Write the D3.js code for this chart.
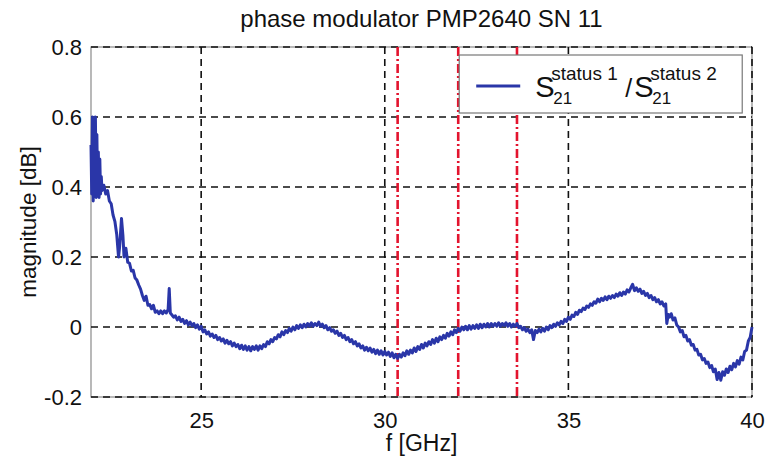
<!DOCTYPE html>
<html>
  <head>
    <meta charset="utf-8">
    <style>
      body {
        margin: 0;
        background: white;
        font-family: "Arial", "Liberation Sans", sans-serif;
      }
    </style>
  </head>
<body>
  <div id="chart"></div>

  <script src="https://d3js.org/d3.v7.min.js"></script>
  <script>

    // measured trace: [frequency GHz, magnitude dB]
    var trace = [
      [22.00, 0.52], [22.02, 0.38], [22.04, 0.60], [22.06, 0.36], [22.08, 0.59],
      [22.10, 0.40], [22.12, 0.60], [22.14, 0.37], [22.16, 0.55], [22.18, 0.38],
      [22.20, 0.50], [22.22, 0.37], [22.24, 0.48], [22.26, 0.38], [22.28, 0.43],
      [22.30, 0.39], [22.35, 0.405], [22.40, 0.38], [22.45, 0.39], [22.50, 0.36],
      [22.55, 0.352], [22.60, 0.32], [22.65, 0.302], [22.70, 0.265], [22.75, 0.20],
      [22.78, 0.23], [22.83, 0.31], [22.87, 0.26], [22.90, 0.20], [22.95, 0.225],
      [23.00, 0.185], [23.05, 0.182], [23.10, 0.16], [23.15, 0.162], [23.20, 0.14],
      [23.25, 0.134], [23.30, 0.12], [23.35, 0.108], [23.40, 0.09], [23.45, 0.076],
      [23.50, 0.088], [23.55, 0.062], [23.60, 0.064], [23.65, 0.052], [23.70, 0.062],
      [23.75, 0.042], [23.80, 0.046], [23.85, 0.038], [23.90, 0.046], [23.95, 0.038],
      [24.00, 0.046], [24.05, 0.04], [24.10, 0.05], [24.13, 0.11], [24.16, 0.04],
      [24.20, 0.035], [24.25, 0.028], [24.30, 0.032], [24.35, 0.02], [24.40, 0.028],
      [24.45, 0.016], [24.50, 0.022], [24.55, 0.01], [24.60, 0.018], [24.65, 0.006],
      [24.70, 0.014], [24.75, 0.004], [24.80, 0.01], [24.85, -0.002], [24.90, 0.006],
      [24.95, -0.006], [25.00, 0.002], [25.05, -0.014], [25.10, -0.008], [25.15, -0.02],
      [25.20, -0.014], [25.25, -0.026], [25.30, -0.02], [25.35, -0.03], [25.40, -0.024],
      [25.45, -0.036], [25.50, -0.03], [25.55, -0.04], [25.60, -0.034], [25.65, -0.046],
      [25.70, -0.038], [25.75, -0.048], [25.80, -0.042], [25.85, -0.054], [25.90, -0.046],
      [25.95, -0.056], [26.00, -0.05], [26.05, -0.062], [26.10, -0.052], [26.15, -0.064],
      [26.20, -0.054], [26.25, -0.066], [26.30, -0.056], [26.35, -0.068], [26.40, -0.056],
      [26.45, -0.064], [26.50, -0.054], [26.55, -0.066], [26.60, -0.054], [26.65, -0.062],
      [26.70, -0.05], [26.75, -0.056], [26.80, -0.042], [26.85, -0.048], [26.90, -0.036],
      [26.95, -0.042], [27.00, -0.03], [27.05, -0.034], [27.10, -0.022], [27.15, -0.028],
      [27.20, -0.014], [27.25, -0.022], [27.30, -0.01], [27.35, -0.016], [27.40, -0.004],
      [27.45, -0.012], [27.50, 0.0], [27.55, -0.008], [27.60, 0.004], [27.65, -0.004],
      [27.70, 0.006], [27.75, -0.002], [27.80, 0.008], [27.85, 0.0], [27.90, 0.01],
      [27.95, 0.002], [28.00, 0.012], [28.05, 0.002], [28.10, 0.01], [28.15, 0.004],
      [28.20, 0.014], [28.25, 0.002], [28.30, 0.008], [28.35, -0.002], [28.40, 0.004],
      [28.45, -0.008], [28.50, -0.002], [28.55, -0.012], [28.60, -0.008], [28.65, -0.018],
      [28.70, -0.012], [28.75, -0.024], [28.80, -0.018], [28.85, -0.03], [28.90, -0.024],
      [28.95, -0.036], [29.00, -0.03], [29.05, -0.042], [29.10, -0.036], [29.15, -0.048],
      [29.20, -0.042], [29.25, -0.054], [29.30, -0.048], [29.35, -0.06], [29.40, -0.054],
      [29.45, -0.066], [29.50, -0.058], [29.55, -0.068], [29.60, -0.06], [29.65, -0.072],
      [29.70, -0.064], [29.75, -0.076], [29.80, -0.066], [29.85, -0.078], [29.90, -0.068],
      [29.95, -0.08], [30.00, -0.07], [30.05, -0.08], [30.10, -0.072], [30.15, -0.084],
      [30.20, -0.074], [30.25, -0.088], [30.30, -0.078], [30.35, -0.09], [30.40, -0.078],
      [30.45, -0.086], [30.50, -0.074], [30.55, -0.082], [30.60, -0.068], [30.65, -0.078],
      [30.70, -0.066], [30.75, -0.074], [30.80, -0.06], [30.85, -0.07], [30.90, -0.056],
      [30.95, -0.064], [31.00, -0.05], [31.05, -0.06], [31.10, -0.046], [31.15, -0.054],
      [31.20, -0.042], [31.25, -0.05], [31.30, -0.036], [31.35, -0.046], [31.40, -0.032],
      [31.45, -0.042], [31.50, -0.028], [31.55, -0.036], [31.60, -0.024], [31.65, -0.032],
      [31.70, -0.018], [31.75, -0.026], [31.80, -0.014], [31.85, -0.022], [31.90, -0.008],
      [31.95, -0.016], [32.00, -0.004], [32.05, -0.012], [32.10, 0.0], [32.15, -0.008],
      [32.20, 0.002], [32.25, -0.008], [32.30, 0.004], [32.35, -0.006], [32.40, 0.004],
      [32.45, -0.004], [32.50, 0.006], [32.55, -0.004], [32.60, 0.008], [32.65, -0.002],
      [32.70, 0.008], [32.75, 0.0], [32.80, 0.01], [32.85, 0.0], [32.90, 0.01],
      [32.95, 0.002], [33.00, 0.01], [33.05, 0.002], [33.10, 0.012], [33.15, 0.002],
      [33.20, 0.01], [33.25, 0.004], [33.30, 0.012], [33.35, 0.002], [33.40, 0.01],
      [33.45, 0.0], [33.50, 0.008], [33.55, 0.002], [33.60, 0.01], [33.65, -0.002],
      [33.70, 0.002], [33.75, -0.008], [33.80, -0.002], [33.85, -0.012], [33.90, -0.006],
      [33.95, -0.016], [34.00, -0.008], [34.05, -0.036], [34.10, -0.01], [34.15, -0.016],
      [34.20, -0.006], [34.25, -0.014], [34.30, -0.004], [34.35, -0.012], [34.40, 0.0],
      [34.45, -0.008], [34.50, 0.004], [34.55, -0.002], [34.60, 0.008], [34.65, 0.002],
      [34.70, 0.012], [34.75, 0.006], [34.80, 0.016], [34.85, 0.01], [34.90, 0.022],
      [34.95, 0.016], [35.00, 0.028], [35.05, 0.022], [35.10, 0.034], [35.15, 0.03],
      [35.20, 0.042], [35.25, 0.036], [35.30, 0.048], [35.35, 0.044], [35.40, 0.054],
      [35.45, 0.05], [35.50, 0.06], [35.55, 0.056], [35.60, 0.066], [35.65, 0.062],
      [35.70, 0.072], [35.75, 0.068], [35.80, 0.08], [35.85, 0.072], [35.90, 0.082],
      [35.95, 0.076], [36.00, 0.086], [36.05, 0.078], [36.10, 0.088], [36.15, 0.082],
      [36.20, 0.09], [36.25, 0.084], [36.30, 0.094], [36.35, 0.088], [36.40, 0.098],
      [36.45, 0.09], [36.50, 0.1], [36.55, 0.094], [36.60, 0.106], [36.65, 0.1],
      [36.70, 0.112], [36.75, 0.122], [36.80, 0.104], [36.85, 0.112], [36.90, 0.102],
      [36.95, 0.108], [37.00, 0.096], [37.05, 0.102], [37.10, 0.09], [37.15, 0.096],
      [37.20, 0.084], [37.25, 0.09], [37.30, 0.078], [37.35, 0.084], [37.40, 0.072],
      [37.45, 0.078], [37.50, 0.066], [37.55, 0.072], [37.60, 0.06], [37.65, 0.066],
      [37.68, 0.01], [37.72, 0.036], [37.75, 0.028], [37.80, 0.038], [37.85, 0.02],
      [37.90, 0.026], [37.95, 0.006], [38.00, 0.0], [38.05, -0.014], [38.10, -0.01],
      [38.15, -0.028], [38.20, -0.024], [38.25, -0.04], [38.30, -0.036], [38.35, -0.052],
      [38.40, -0.05], [38.45, -0.066], [38.50, -0.064], [38.55, -0.08], [38.60, -0.078],
      [38.65, -0.094], [38.70, -0.09], [38.75, -0.104], [38.80, -0.1], [38.85, -0.116],
      [38.90, -0.11], [38.95, -0.128], [39.00, -0.12], [39.05, -0.15], [39.10, -0.13],
      [39.15, -0.152], [39.20, -0.128], [39.25, -0.138], [39.30, -0.12], [39.35, -0.13],
      [39.40, -0.112], [39.45, -0.122], [39.50, -0.104], [39.55, -0.114], [39.60, -0.096],
      [39.65, -0.106], [39.70, -0.086], [39.75, -0.094], [39.80, -0.07], [39.85, -0.066],
      [39.90, -0.04], [39.95, -0.03], [40.00, 0.0]
    ];

    var xTicks = [25, 30, 35, 40];
    var yTicks = [-0.2, 0, 0.2, 0.4, 0.6, 0.8];
    var yTickLabels = ["-0.2", "0", "0.2", "0.4", "0.6", "0.8"];
    var markers = [30.35, 32.0, 33.6];   // red dash-dot frequencies

    var margin = {top: 47, right: 16, bottom: 71, left: 91},
      width = 768 - margin.left - margin.right,
      height = 468 - margin.top - margin.bottom;

    var svg = d3.select("#chart")
      .append("svg")
      .attr("width", 768)
      .attr("height", 468)
      .append("g")
      .attr("transform", "translate(" + margin.left + "," + margin.top + ")");

    var x = d3.scaleLinear()
      .domain([22, 40])
      .range([0, width]);

    var y = d3.scaleLinear()
      .domain([-0.2, 0.8])
      .range([height, 0]);

    // axes box
    svg.append("rect")
      .attr("width", width)
      .attr("height", height)
      .style("fill", "none")
      .style("stroke", "#8a8a8a")
      .style("stroke-width", 1.2);

    // dashed grid
    svg.append("g")
      .selectAll("line")
      .data(yTicks)
      .enter()
      .append("line")
        .attr("x1", 0)
        .attr("x2", width)
        .attr("y1", function(d) { return y(d); })
        .attr("y2", function(d) { return y(d); })
        .style("stroke", "#111")
        .style("stroke-width", 1.6)
        .style("stroke-dasharray", "7,5");

    svg.append("g")
      .selectAll("line")
      .data(xTicks)
      .enter()
      .append("line")
        .attr("x1", function(d) { return x(d); })
        .attr("x2", function(d) { return x(d); })
        .attr("y1", 0)
        .attr("y2", height)
        .style("stroke", "#111")
        .style("stroke-width", 1.6)
        .style("stroke-dasharray", "7,5");

    // tick labels
    svg.append("g")
      .attr("transform", "translate(0," + height + ")")
      .call(d3.axisBottom(x).tickValues(xTicks).tickSize(0).tickPadding(15))
      .call(function(g) { g.select(".domain").remove(); })
      .selectAll("text")
        .style("font-family", "Arial")
        .style("font-size", "22px")
        .style("fill", "#111");

    svg.append("g")
      .call(d3.axisLeft(y).tickValues(yTicks).tickSize(0).tickPadding(9)
        .tickFormat(function(d, i) { return yTickLabels[i]; }))
      .call(function(g) { g.select(".domain").remove(); })
      .selectAll("text")
        .style("font-family", "Arial")
        .style("font-size", "22px")
        .style("fill", "#111");

    // red markers
    svg.append("g")
      .selectAll("line")
      .data(markers)
      .enter()
      .append("line")
        .attr("x1", function(d) { return x(d); })
        .attr("x2", function(d) { return x(d); })
        .attr("y1", 0)
        .attr("y2", height)
        .style("stroke", "#e3142e")
        .style("stroke-width", 2.6)
        .style("stroke-dasharray", "9,3,2,3");

    // measured curve
    var line = d3.line()
      .x(function(d) { return x(d[0]); })
      .y(function(d) { return y(d[1]); });

    svg.append("path")
      .datum(trace)
      .attr("d", line)
      .style("fill", "none")
      .style("stroke", "#2a36a8")
      .style("stroke-width", 3)
      .style("stroke-linejoin", "round");

    // title and axis labels
    svg.append("text")
      .attr("x", width / 2)
      .attr("y", -20)
      .style("text-anchor", "middle")
      .style("font-family", "Arial")
      .style("font-size", "24px")
      .style("fill", "#111")
      .text("phase modulator PMP2640 SN 11");

    svg.append("text")
      .attr("x", width / 2)
      .attr("y", height + 54)
      .style("text-anchor", "middle")
      .style("font-family", "Arial")
      .style("font-size", "23px")
      .style("fill", "#111")
      .text("f [GHz]");

    svg.append("text")
      .attr("transform", "rotate(-90)")
      .attr("x", -height / 2)
      .attr("y", -55)
      .style("text-anchor", "middle")
      .style("font-family", "Arial")
      .style("font-size", "22.5px")
      .style("fill", "#111")
      .text("magnitude [dB]");

    // legend
    var lg = svg.append("g")
      .attr("transform", "translate(" + (x(32.0) + 1) + ",8)");

    lg.append("rect")
      .attr("width", 283)
      .attr("height", 58)
      .style("fill", "white")
      .style("stroke", "#777")
      .style("stroke-width", 1.2);

    lg.append("line")
      .attr("x1", 17).attr("x2", 61)
      .attr("y1", 31).attr("y2", 31)
      .style("stroke", "#2a36a8")
      .style("stroke-width", 3);

    function sym(px, sup) {
      lg.append("text")
        .attr("x", px).attr("y", 42)
        .style("font-family", "Arial").style("font-size", "29px").style("fill", "#111")
        .text("S");
      lg.append("text")
        .attr("x", px + 16).attr("y", 25)
        .style("font-family", "Arial").style("font-size", "19px").style("fill", "#111")
        .text(sup);
      lg.append("text")
        .attr("x", px + 18).attr("y", 49)
        .style("font-family", "Arial").style("font-size", "17px").style("fill", "#111")
        .text("21");
    }
    sym(76, "status 1");
    lg.append("text")
      .attr("x", 166).attr("y", 42)
      .style("font-family", "Arial").style("font-size", "25px").style("fill", "#111")
      .text("/");
    sym(175, "status 2");

  </script>
</body>
</html>
